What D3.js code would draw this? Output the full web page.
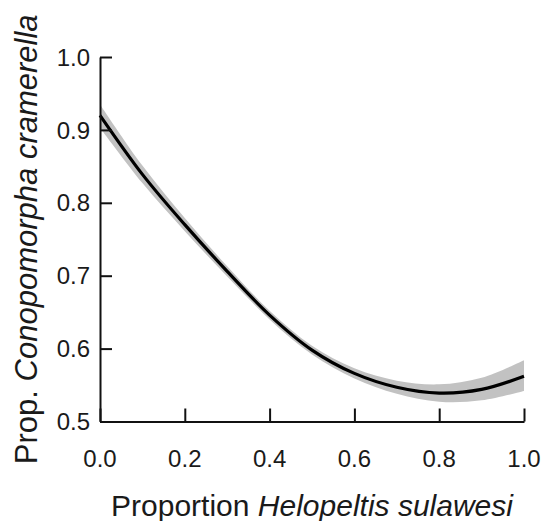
<!DOCTYPE html>
<html>
<head>
<meta charset="utf-8">
<script src="https://cdn.jsdelivr.net/npm/d3@7"></script>
<style>
  body { margin: 0; background: #fff; }
  text { font-family: "Liberation Sans", Arial, sans-serif; fill: #1a1a1a; }
</style>
</head>
<body>
<div id="chart"></div>
<script>
// Fitted curve
const xs    = [0, 0.1, 0.2, 0.3, 0.4, 0.5, 0.6, 0.7, 0.8, 0.9, 1.0];
const fit   = [0.920, 0.839, 0.770, 0.706, 0.646, 0.598, 0.566, 0.547, 0.539, 0.544, 0.562];
const upper = [0.935, 0.851, 0.779, 0.713, 0.652, 0.604, 0.573, 0.556, 0.551, 0.560, 0.584];
const lower = [0.903, 0.827, 0.761, 0.699, 0.640, 0.592, 0.559, 0.538, 0.527, 0.529, 0.542];
const xTicks = [0, 0.2, 0.4, 0.6, 0.8, 1.0];
const yTicks = [0.5, 0.6, 0.7, 0.8, 0.9, 1.0];

const W = 545, H = 521;
const margin = {top: 57, right: 21, bottom: 99.5, left: 100};
const width = W - margin.left - margin.right;
const height = H - margin.top - margin.bottom;

const svg = d3.select("#chart")
  .append("svg")
  .attr("width", W)
  .attr("height", H)
  .append("g")
  .attr("transform", `translate(${margin.left},${margin.top})`);

const x = d3.scaleLinear().domain([0, 1]).range([0, width]);
const y = d3.scaleLinear().domain([0.5, 1]).range([height, 0]);

const data = xs.map((v, i) => ({x: v, fit: fit[i], lo: lower[i], hi: upper[i]}));

// Confidence band
svg.append("path")
  .datum(data)
  .attr("fill", "#c2c2c2")
  .attr("d", d3.area()
    .x(d => x(d.x))
    .y0(d => y(d.lo))
    .y1(d => y(d.hi))
    .curve(d3.curveCatmullRom));

// Fitted line
svg.append("path")
  .datum(data)
  .attr("fill", "none")
  .attr("stroke", "#000")
  .attr("stroke-width", 3.2)
  .attr("d", d3.line()
    .x(d => x(d.x))
    .y(d => y(d.fit))
    .curve(d3.curveCatmullRom));

// Axes (ticks point inward)
const xAxis = svg.append("g")
  .attr("transform", `translate(0,${height})`)
  .call(d3.axisTop(x).tickValues(xTicks).tickSize(13).tickSizeOuter(0));
xAxis.selectAll("text").remove();
svg.append("g")
  .selectAll("text")
  .data(xTicks)
  .join("text")
  .attr("x", d => x(d))
  .attr("y", height + 45.5)
  .attr("text-anchor", "middle")
  .style("font-size", "24px")
  .text(d3.format(".1f"));

const yAxis = svg.append("g")
  .call(d3.axisRight(y).tickValues(yTicks).tickSize(12).tickSizeOuter(0));
yAxis.selectAll("text").remove();
svg.append("g")
  .selectAll("text")
  .data(yTicks)
  .join("text")
  .attr("x", -10)
  .attr("y", d => y(d))
  .attr("dy", "0.36em")
  .attr("text-anchor", "end")
  .style("font-size", "24px")
  .text(d3.format(".1f"));

svg.selectAll(".domain, .tick line")
  .attr("stroke", "#111")
  .attr("stroke-width", 2);

// Axis titles
const xLabel = svg.append("text")
  .attr("x", width / 2)
  .attr("y", height + 94)
  .attr("text-anchor", "middle")
  .style("font-size", "30px");
xLabel.append("tspan").text("Proportion ");
xLabel.append("tspan").style("font-style", "italic").text("Helopeltis sulawesi");

const yLabel = svg.append("text")
  .attr("transform", "rotate(-90)")
  .attr("x", -height / 2)
  .attr("y", -63)
  .attr("text-anchor", "middle")
  .style("font-size", "31px");
yLabel.append("tspan").text("Prop. ");
yLabel.append("tspan").style("font-style", "italic").text("Conopomorpha cramerella");
</script>
</body>
</html>
